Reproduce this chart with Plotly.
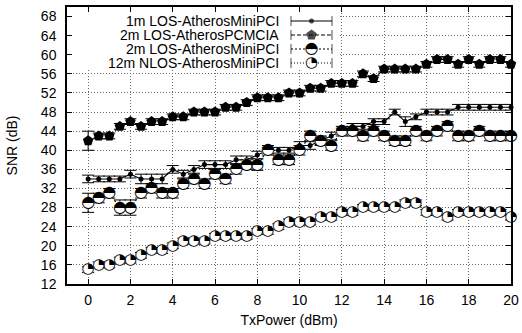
import plotly.graph_objects as go

# ---------------- data ----------------
tx_power = [0, 0.5, 1, 1.5, 2, 2.5, 3, 3.5, 4, 4.5, 5, 5.5, 6, 6.5, 7, 7.5, 8, 8.5, 9, 9.5,
            10, 10.5, 11, 11.5, 12, 12.5, 13, 13.5, 14, 14.5, 15, 15.5, 16, 16.5, 17, 17.5,
            18, 18.5, 19, 19.5, 20]

snr_1m_los_minipci = [34, 34, 34, 34, 35, 34, 34, 34, 36, 35, 36, 37, 37, 37, 38, 38, 39, 40, 40, 40,
                      41, 41, 42, 43, 44, 45, 45, 46, 46, 48, 46, 47, 48, 48, 48, 49, 49, 49, 49, 49, 49]
err_1m_los_minipci = [0.8, 0.6, 0.6, 0.6, 0.8, 1, 1, 1, 0.8, 0.8, 0.8, 0.8, 0.8, 0.8, 0.8, 0.8, 0.8, 0.6, 0.6, 0.6,
                      0.8, 0.8, 0.8, 0.8, 0.6, 0.6, 0.6, 0.6, 0.6, 0.6, 1, 0.6, 0.6, 0.6, 0.6, 0.6, 0.6, 0.6, 0.6, 0.6, 0.6]

snr_2m_los_pcmcia = [42, 43, 43, 45, 46, 45, 46, 46, 47, 47, 48, 48, 48, 49, 49, 50, 51, 51, 51, 52,
                     52, 53, 53, 54, 54, 54, 56, 55, 57, 57, 57, 57, 58, 59, 59, 58, 59, 58, 59, 59, 58]
err_2m_los_pcmcia = [2, 0.6, 0.6, 0.6, 0.6, 0.6, 0.6, 0.6, 0.6, 0.6, 0.6, 0.6, 0.6, 0.6, 0.6, 0.6, 0.6, 0.6, 0.6, 0.6,
                     0.6, 0.6, 0.6, 0.6, 0.6, 0.6, 0.6, 0.6, 0.6, 0.6, 0.6, 0.6, 0.6, 0.6, 0.6, 0.6, 0.6, 0.6, 0.6, 0.6, 0.6]

snr_2m_los_minipci = [29, 30, 31, 28, 28, 31, 32, 31, 31, 33, 34, 33, 35, 34, 36, 37, 37, 40, 38, 38,
                      40, 43, 42, 41, 44, 44, 43, 44, 43, 42, 42, 44, 43, 44, 45, 43, 43, 44, 43, 43, 43]
err_2m_los_minipci = [2, 1, 1, 1.6, 1.6, 1, 1, 1, 1, 1, 1, 1, 1, 1, 1, 1, 1.2, 1, 1, 1,
                      1, 1, 1, 1, 1, 1, 1, 1, 1, 1, 1, 1, 1, 1, 1, 1, 1, 1, 1, 1, 1]

snr_12m_nlos_minipci = [15, 16, 16, 17, 17, 18, 19, 19, 20, 21, 21, 21, 22, 22, 22, 22, 23, 23, 24, 25,
                        25, 25, 26, 26, 27, 27, 28, 28, 28, 28, 29, 29, 27, 27, 26, 27, 27, 27, 27, 27, 26]
err_12m_nlos_minipci = [0.6] * 41

series_names = ["1m LOS-AtherosMiniPCI", "2m LOS-AtherosPCMCIA",
                "2m LOS-AtherosMiniPCI", "12m NLOS-AtherosMiniPCI"]

x_ticks = [0, 2, 4, 6, 8, 10, 12, 14, 16, 18, 20]
y_ticks = [12, 16, 20, 24, 28, 32, 36, 40, 44, 48, 52, 56, 60, 64, 68]

# ---------------- styles ----------------
FONT = "Liberation Sans"
GLYPH_FONT = "DejaVu Sans"
W, H = 522, 333
ML, MR, MT, MB = 67, 11, 7, 49
PW, PH = W - ML - MR, H - MT - MB
X_RANGE = [-1, 20]
Y_RANGE = [12, 70]


def px_x(p):  # pixel x -> paper fraction
    return (p - ML) / PW


def px_y(p):  # pixel y -> paper fraction
    return (H - MB - p) / PH


def px_to_xdata(p):
    return X_RANGE[0] + px_x(p) * (X_RANGE[1] - X_RANGE[0])


def px_to_ydata(p):
    return Y_RANGE[0] + px_y(p) * (Y_RANGE[1] - Y_RANGE[0])


styles = [
    dict(dash="solid", symbol="circle", size=5, fill="black", glyph="", gsize=0),
    dict(dash="4px,2px", symbol="pentagon", size=11, fill="black", glyph="", gsize=0),
    dict(dash="2px,2px", symbol="circle", size=12, fill="white", glyph="◓", gsize=16),
    dict(dash="1px,2px", symbol="circle", size=11, fill="white", glyph="◔", gsize=15),
]
values = [snr_1m_los_minipci, snr_2m_los_pcmcia, snr_2m_los_minipci, snr_12m_nlos_minipci]
errors = [err_1m_los_minipci, err_2m_los_pcmcia, err_2m_los_minipci, err_12m_nlos_minipci]

fig = go.Figure()

for name, yv, ev, st in zip(series_names, values, errors, styles):
    mode = "lines+markers" + ("+text" if st["glyph"] else "")
    kw = {}
    if st["glyph"]:
        kw = dict(text=[st["glyph"]] * len(yv), textposition="middle center",
                  textfont=dict(family=GLYPH_FONT, size=st["gsize"], color="black"))
    fig.add_trace(go.Scatter(
        x=tx_power, y=yv, name=name, mode=mode,
        line=dict(color="black", width=1.1, dash=st["dash"]),
        marker=dict(symbol=st["symbol"], size=st["size"], color=st["fill"], line=dict(width=0)),
        error_y=dict(type="data", array=ev, visible=True, color="black", thickness=1, width=6),
        cliponaxis=False, showlegend=False, hoverinfo="skip", **kw,
    ))

# opaque key box (hides grid behind key), drawn above grid but below traces
fig.add_shape(type="rect", xref="x", yref="y",
              x0=X_RANGE[0], x1=px_to_xdata(338), y0=px_to_ydata(70), y1=Y_RANGE[1],
              fillcolor="white", line=dict(width=0), layer="between")

# ---------------- key (gnuplot style, text right-aligned, sample at right) ----------------
KEY_TEXT_X = 281
KEY_S0, KEY_S1 = 291, 332
KEY_ROWS = [21, 35, 49, 63]
for name, st, row in zip(series_names, styles, KEY_ROWS):
    fig.add_annotation(xref="paper", yref="paper", x=px_x(KEY_TEXT_X), y=px_y(row),
                       xanchor="right", yanchor="middle", text=name, showarrow=False,
                       font=dict(family=FONT, size=14, color="black"))
    xs = [px_x(KEY_S0), px_x((KEY_S0 + KEY_S1) / 2), px_x(KEY_S1)]
    ys = [px_y(row)] * 3
    kw = {}
    if st["glyph"]:
        kw = dict(text=["", st["glyph"], ""], textposition="middle center",
                  textfont=dict(family=GLYPH_FONT, size=st["gsize"], color="black"))
    fig.add_trace(go.Scatter(
        x=xs, y=ys, xaxis="x2", yaxis="y2",
        mode="lines+markers" + ("+text" if st["glyph"] else ""),
        line=dict(color="black", width=1.1, dash=st["dash"]),
        marker=dict(symbol=["line-ns", st["symbol"], "line-ns"],
                    size=[7, st["size"], 7],
                    color=["black", st["fill"], "black"],
                    line=dict(width=[1, 0, 1], color="black")),
        cliponaxis=False, showlegend=False, hoverinfo="skip", **kw,
    ))

axis_common = dict(
    showline=True, linecolor="black", linewidth=1.5, mirror="allticks",
    ticks="inside", ticklen=5, tickcolor="black", tickwidth=1,
    showgrid=True, gridcolor="#6a6a6a", gridwidth=1, griddash="1px,2px",
    zeroline=False, automargin=False,
    tickfont=dict(family=FONT, size=14, color="black"),
)

fig.update_layout(
    width=W, height=H,
    margin=dict(l=ML, r=MR, t=MT, b=MB),
    paper_bgcolor="white", plot_bgcolor="white",
    font=dict(family=FONT, size=14, color="black"),
    showlegend=False,
    xaxis=dict(range=X_RANGE, tickvals=x_ticks,
               title=dict(text="TxPower (dBm)", standoff=9, font=dict(family=FONT, size=14)),
               ticklabelstandoff=2, **axis_common),
    yaxis=dict(range=Y_RANGE, tickvals=y_ticks,
               title=dict(text="SNR (dB)", standoff=20, font=dict(family=FONT, size=14)),
               ticklabelstandoff=6, **axis_common),
    xaxis2=dict(overlaying="x", range=[0, 1], visible=False, automargin=False),
    yaxis2=dict(overlaying="y", range=[0, 1], visible=False, automargin=False),
)

fig.write_html("out.html", config={"displayModeBar": False},
               post_script="document.body.style.margin='0';")
